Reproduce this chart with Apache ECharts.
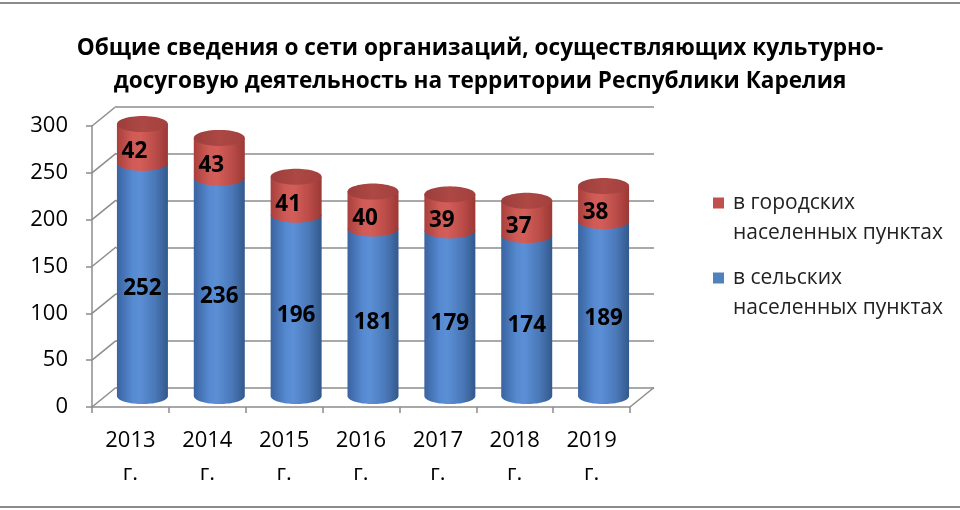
<!DOCTYPE html>
<html><head><meta charset="utf-8">
<script src="https://cdn.jsdelivr.net/npm/echarts@6/dist/echarts.min.js"></script>
<style>html,body{margin:0;padding:0;background:#fff}#c{width:960px;height:510px}</style>
</head><body><div id="c"></div>
<script>
// ---- data ----
const years = ['2013\nг.', '2014\nг.', '2015\nг.', '2016\nг.', '2017\nг.', '2018\nг.', '2019\nг.'];
const rural = [252, 236, 196, 181, 179, 174, 189];
const urban = [42, 43, 41, 40, 39, 37, 38];
const yTicks = [0, 50, 100, 150, 200, 250, 300];
const urbanName = 'в городских\nнаселенных пунктах';
const ruralName = 'в сельских\nнаселенных пунктах';
const titleText = 'Общие сведения о сети организаций, осуществляющих культурно-\nдосуговую деятельность на территории Республики Карелия';

// ---- style ----
const FONT = '"Open Sans", "DejaVu Sans", sans-serif';
const GRID_COL = '#8c8c8c';
const DX = 24, DY = -19.5;      // depth offset of the 3D walls
const RX = 25.5, RY = 8;        // cylinder radii

function hgrad(stops) {
  return { type: 'linear', x: 0, y: 0, x2: 1, y2: 0, colorStops: stops.map(s => ({ offset: s[0], color: s[1] })) };
}
const blueGrad = hgrad([[0, '#3a63a0'], [0.3, '#5589d0'], [0.45, '#5b8fd6'], [0.75, '#4a78b8'], [1, '#33598c']]);
const redGrad = hgrad([[0, '#a83f3c'], [0.3, '#d05b56'], [0.45, '#d35e59'], [0.75, '#bb4c48'], [1, '#9b3835']]);
const capGrad = hgrad([[0, '#9c3e3c'], [0.5, '#ad4844'], [1, '#a3403d']]);

function lowerArc(cx, cy, n) {
  const pts = [];
  for (let k = 0; k <= n; k++) {
    const t = Math.PI - Math.PI * k / n;
    pts.push([cx + RX * Math.cos(t), cy + RY * Math.sin(t)]);
  }
  return pts;
}
function fullEllipse(cx, cy, n) {
  const pts = [];
  for (let k = 0; k < n; k++) {
    const t = 2 * Math.PI * k / n;
    pts.push([cx + RX * Math.cos(t), cy + RY * Math.sin(t)]);
  }
  return pts;
}

function cylinderRender(fill, withCap) {
  return function (params, api) {
    const i = api.value(0), base = api.value(1), val = api.value(2);
    const pb = api.coord([i, base]);
    const pt = api.coord([i, base + val]);
    const cx = pb[0], yb = pb[1], yt = pt[1];
    const body = [[cx - RX, yt]].concat(lowerArc(cx, yb, 40)).concat([[cx + RX, yt]]);
    const children = [{ type: 'polygon', shape: { points: body }, style: { fill: fill } }];
    if (withCap) {
      children.push({ type: 'polygon', shape: { points: fullEllipse(cx, yt, 60) }, style: { fill: capGrad } });
    }
    return { type: 'group', children: children };
  };
}

function wallRender(params, api) {
  const v = api.value(1);
  const p = api.coord([0, v]);
  const half = api.size([1, 0])[0] / 2;
  const x0 = p[0] - half;
  const children = [{ type: 'line', shape: { x1: x0, y1: p[1], x2: x0 + DX, y2: p[1] + DY }, style: { stroke: GRID_COL, lineWidth: 1.5 } }];
  if (v === 0) {
    const pr = api.coord([years.length - 1, 0]);
    const x1 = pr[0] + half;
    children.push({ type: 'line', shape: { x1: x1, y1: pr[1], x2: x1 + DX, y2: pr[1] + DY }, style: { stroke: GRID_COL, lineWidth: 1.5 } });
  }
  return { type: 'group', children: children };
}

function labelRender(params, api) {
  const i = api.value(0), base = api.value(1), val = api.value(2), isTop = api.value(3);
  const p = api.coord([i, base + val / 2]);
  return {
    type: 'text', x: p[0] + DX / 2 + (isTop ? -8 : 0), y: p[1],
    style: { text: String(val), align: 'center', verticalAlign: 'middle', fill: '#000', fontSize: 22.5, fontWeight: 'bold', fontFamily: FONT }
  };
}

const labelData = rural.map((v, i) => [i, 0, v, 0]).concat(urban.map((v, i) => [i, rural[i], v, 1]));

const chart = echarts.init(document.getElementById('c'));
chart.setOption({
  animation: false,
  backgroundColor: '#fff',
  title: {
    text: titleText, left: 'center', top: 27,
    textStyle: { fontSize: 22.6, fontWeight: 'bold', lineHeight: 33, color: '#000', fontFamily: FONT }
  },
  legend: {
    data: [urbanName, ruralName], orient: 'vertical', left: 713, top: 188, padding: 0, itemGap: 15,
    itemWidth: 11, itemHeight: 41, selectedMode: false,
    icon: 'path://M0,0h11v11h-11z M10.95,40.95h0.05v0.05h-0.05z',
    textStyle: { fontSize: 21, lineHeight: 30, color: '#222', fontFamily: FONT, padding: [0, 0, 0, 4] }
  },
  grid: [
    { left: 116, right: 306, top: 106.5, bottom: 122 },
    { left: 92, right: 330, top: 126, bottom: 103 },
    { left: 104, right: 318, top: 118.5, bottom: 114 }
  ],
  xAxis: [
    { gridIndex: 0, type: 'category', data: years, show: false },
    {
      gridIndex: 1, type: 'category', data: years,
      axisLine: { show: true, lineStyle: { color: GRID_COL, width: 1.5 } },
      axisTick: { show: true, length: 6, interval: 0, lineStyle: { color: GRID_COL, width: 1.5 } },
      axisLabel: { fontSize: 22, lineHeight: 33, color: '#000', margin: 17, fontFamily: FONT, interval: 0 },
      splitLine: { show: false }
    },
    { gridIndex: 2, type: 'category', data: years, show: false }
  ],
  yAxis: [
    {
      gridIndex: 0, type: 'value', min: 0, max: 300, interval: 50,
      axisLabel: { show: false }, axisLine: { show: false }, axisTick: { show: false },
      splitLine: { show: true, lineStyle: { color: GRID_COL, width: 1.5 } }
    },
    {
      gridIndex: 1, type: 'value', min: 0, max: 300, interval: 50,
      axisLine: { show: true, lineStyle: { color: GRID_COL, width: 1.5 } },
      axisTick: { show: true, length: 6, lineStyle: { color: GRID_COL, width: 1.5 } },
      axisLabel: { fontSize: 22, color: '#000', margin: 24, fontFamily: FONT },
      splitLine: { show: false }
    },
    { gridIndex: 2, type: 'value', min: 0, max: 300, interval: 50, show: false, splitLine: { show: false } }
  ],
  graphic: [
    { type: 'line', shape: { x1: 0, y1: 3, x2: 960, y2: 3 }, style: { stroke: '#8c8c8c', lineWidth: 2 }, silent: true },
    { type: 'line', shape: { x1: 0, y1: 507, x2: 960, y2: 507 }, style: { stroke: '#8c8c8c', lineWidth: 2 }, silent: true }
  ],
  series: [
    {
      type: 'custom', name: 'walls', xAxisIndex: 1, yAxisIndex: 1, silent: true, z: 1, clip: false,
      data: yTicks.map(v => [0, v]), encode: { x: 0, y: 1 }, renderItem: wallRender
    },
    {
      type: 'custom', name: ruralName, xAxisIndex: 2, yAxisIndex: 2, z: 3, clip: false,
      itemStyle: { color: '#4F81BD' },
      data: rural.map((v, i) => [i, 0, v]), encode: { x: 0, y: [1, 2] },
      renderItem: cylinderRender(blueGrad, false)
    },
    {
      type: 'custom', name: urbanName, xAxisIndex: 2, yAxisIndex: 2, z: 4, clip: false,
      itemStyle: { color: '#C0504D' },
      data: urban.map((v, i) => [i, rural[i], v]), encode: { x: 0, y: [1, 2] },
      renderItem: cylinderRender(redGrad, true)
    },
    {
      type: 'custom', name: 'labels', xAxisIndex: 1, yAxisIndex: 1, z: 6, silent: true, clip: false,
      data: labelData, encode: { x: 0, y: 1 }, renderItem: labelRender
    }
  ]
});
</script>
</body></html>
